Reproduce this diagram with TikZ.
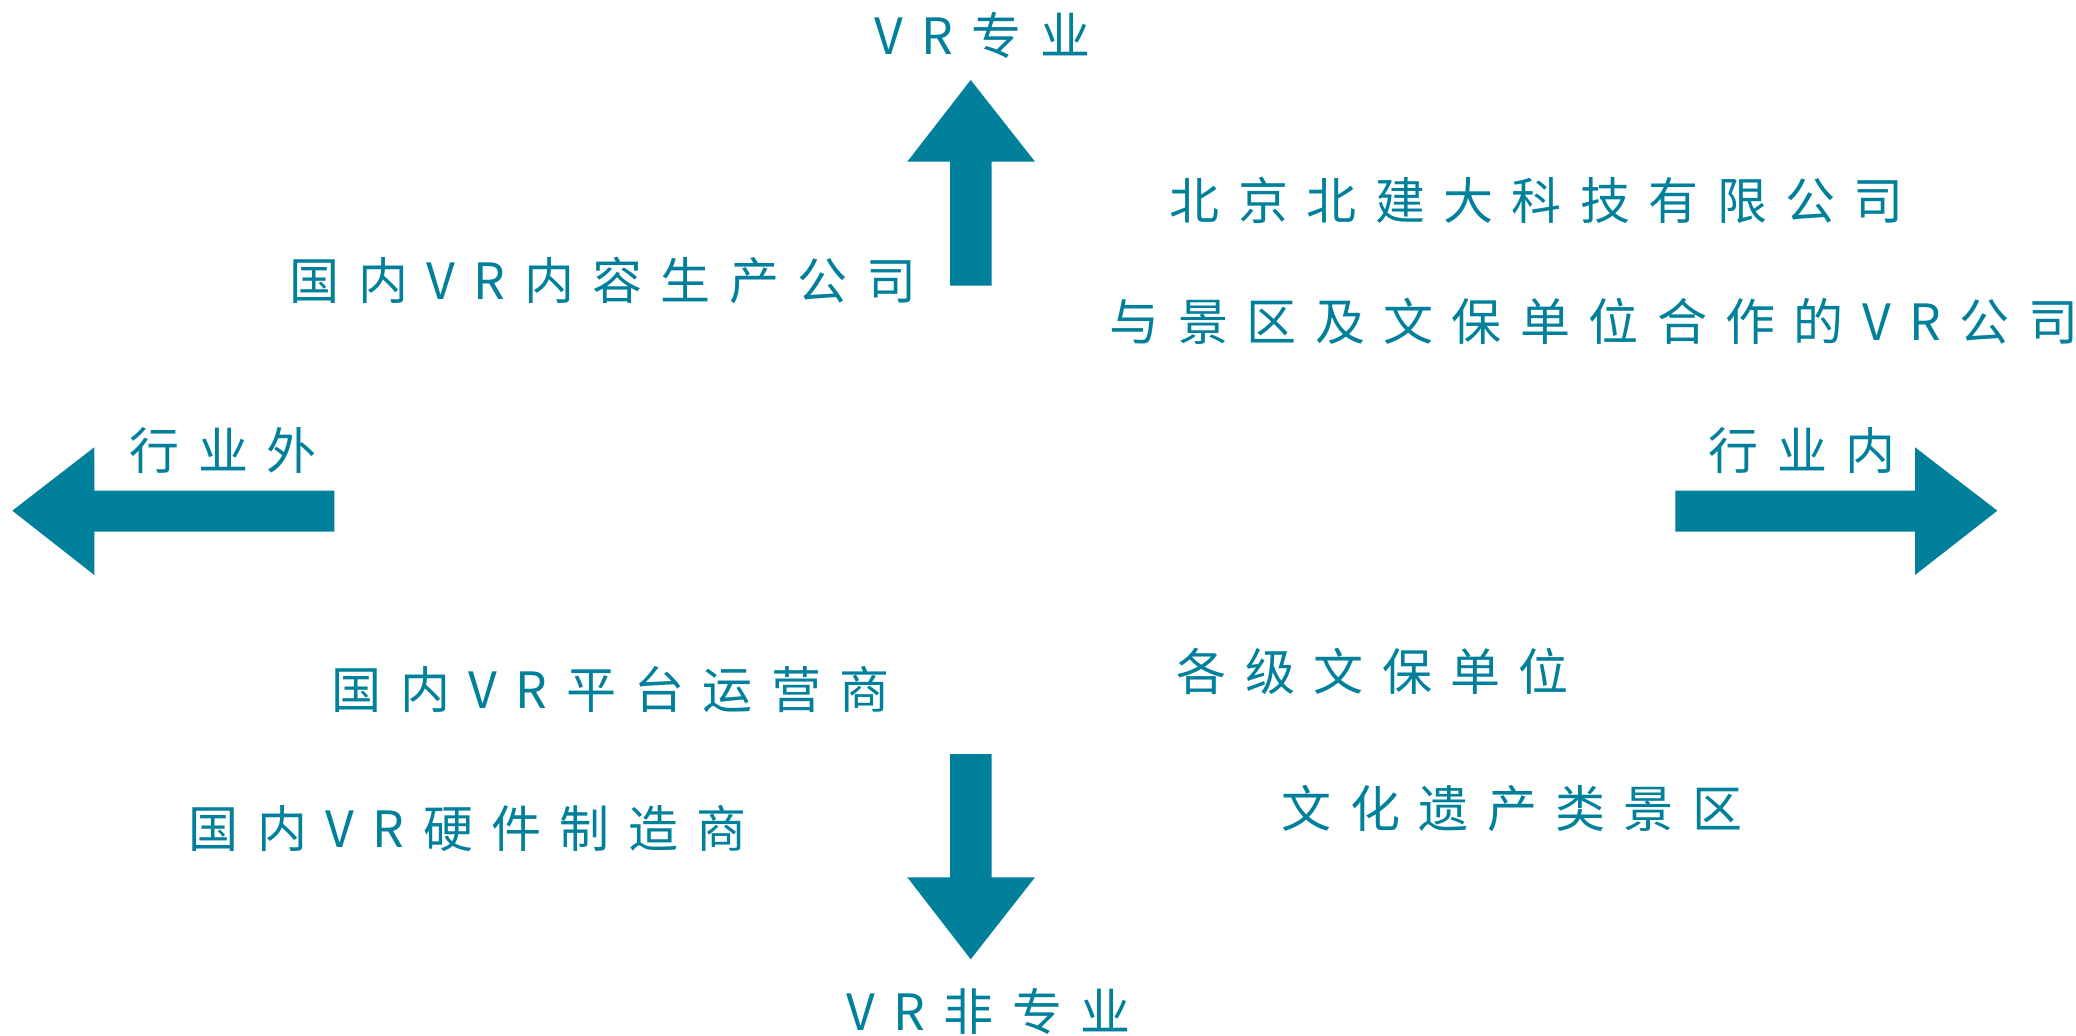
\documentclass[tikz,border=0pt]{standalone}
\usepackage{fontspec}
\usepackage{xcolor}
\newfontfamily\cjkfont[LetterSpace=36.8]{Noto Sans CJK SC}
\definecolor{vrteal}{RGB}{0,128,155}
\tikzset{
  bigarrow/.style={fill=vrteal, draw=none},
  lbl/.style={anchor=west, inner sep=0pt, text=vrteal, font=\cjkfont\fontsize{25pt}{30pt}\selectfont}
}

\begin{document}
\begin{tikzpicture}[x=0.5pt,y=0.5pt,yscale=-1]
    \useasboundingbox (0,0) rectangle (2076,1036);

    %Up Arrow
    \fill [bigarrow] (950,285.7) -- (950,161.7) -- (907.3,161.7) -- (970.7,80) -- (1035,161.7) -- (991.7,161.7) -- (991.7,285.7) -- cycle;
    %Down Arrow
    \fill [bigarrow] (950,754) -- (991.7,754) -- (991.7,877.3) -- (1035,877.3) -- (970.7,959.3) -- (907.3,877.3) -- (950,877.3) -- cycle;
    %Left Arrow
    \fill [bigarrow] (334.3,490.7) -- (94.3,490.7) -- (94.3,447.3) -- (12.3,510.7) -- (94.3,575) -- (94.3,531.7) -- (334.3,531.7) -- cycle;
    %Right Arrow
    \fill [bigarrow] (1675.3,490.7) -- (1915,490.7) -- (1915,447.3) -- (1997.3,510.7) -- (1915,575) -- (1915,531.7) -- (1675.3,531.7) -- cycle;

    % Axis labels
    \node [lbl] (vrpro) at (874,35) {VR专业};
    \node [lbl] (vrnonpro) at (846,1011) {VR非专业};
    \node [lbl] (outside) at (129.5,451) {行业外};
    \node [lbl] (inside) at (1708.5,451) {行业内};

    % Quadrant labels
    \node [lbl] (bjjd) at (1169.5,200) {北京北建大科技有限公司};
    \node [lbl] (coop) at (1109.5,321) {与景区及文保单位合作的VR公司};
    \node [lbl] (content) at (289.5,281) {国内VR内容生产公司};
    \node [lbl] (platform) at (331.5,689) {国内VR平台运营商};
    \node [lbl] (hardware) at (188.5,828) {国内VR硬件制造商};
    \node [lbl] (heritage) at (1176.5,671) {各级文保单位};
    \node [lbl] (scenic) at (1281.5,808) {文化遗产类景区};

\end{tikzpicture}
\end{document}
